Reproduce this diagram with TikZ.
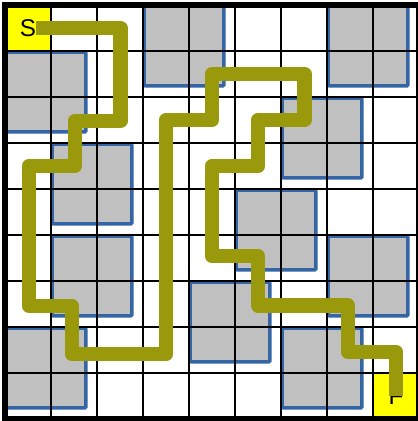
\documentclass[tikz,border=0pt]{standalone}
\usepackage{fontspec}
\setsansfont{Liberation Sans}
\definecolor{blockgray}{RGB}{192,192,192}
\definecolor{blockblue}{RGB}{52,101,164}
\definecolor{routeolive}{RGB}{153,153,11}
\definecolor{startyellow}{RGB}{255,255,0}
\begin{document}
\begin{tikzpicture}[x=1cm,y=-1cm,
  block/.style={fill=blockgray, draw=blockblue, line width=2.15pt, rounded corners=0.8pt},
  gridline/.style={black, line width=0.85pt},
  border/.style={black, line width=3.7pt},
  route/.style={draw=routeolive, line width=8.9pt, line join=round},
  lbl/.style={font=\sffamily\fontsize{15}{18}\selectfont, text=black, inner sep=0pt}]
\useasboundingbox (-0.1087,-0.1087) rectangle (8.9565,9.0435);
\fill[white] (-0.1087,-0.1087) rectangle (8.9565,9.0435);
% start / finish cells
\fill[startyellow] (0,0) rectangle (1,1);
\fill[startyellow] (8,8) rectangle (9,9);
% obstacles
\foreach \c/\r in {0/1,3/0,7/0,6/2,1/3,1/5,0/7,5/4,7/5,4/6,6/7}
  \draw[block] (\c+0.025,\r+0.025) rectangle (\c+1.76,\r+1.76);
% grid
\foreach \i in {1,...,8} {
  \draw[gridline] (\i,0) -- (\i,9);
  \draw[gridline] (0,\i) -- (9,\i);
}
\draw[border] (0,0) rectangle (9,9);
% labels
\node[lbl] (S) at (0.5,0.5) {S};
\node[lbl] (F) at (8.5,8.5) {F};
% route
\draw[route] (S.east) -- (2.51,0.5) -- (2.51,2.52) -- (1.52,2.52) -- (1.52,3.5)
  -- (0.52,3.5) -- (0.52,6.54) -- (1.45,6.54) -- (1.45,7.59) -- (3.5,7.59)
  -- (3.5,2.5) -- (4.5,2.5) -- (4.5,1.5) -- (6.51,1.5) -- (6.51,2.5)
  -- (5.5,2.5) -- (5.5,3.5) -- (4.5,3.5) -- (4.5,5.46) -- (5.5,5.46)
  -- (5.5,6.53) -- (7.45,6.53) -- (7.45,7.54) -- (8.5,7.54) -- (F.center);
\end{tikzpicture}
\end{document}
